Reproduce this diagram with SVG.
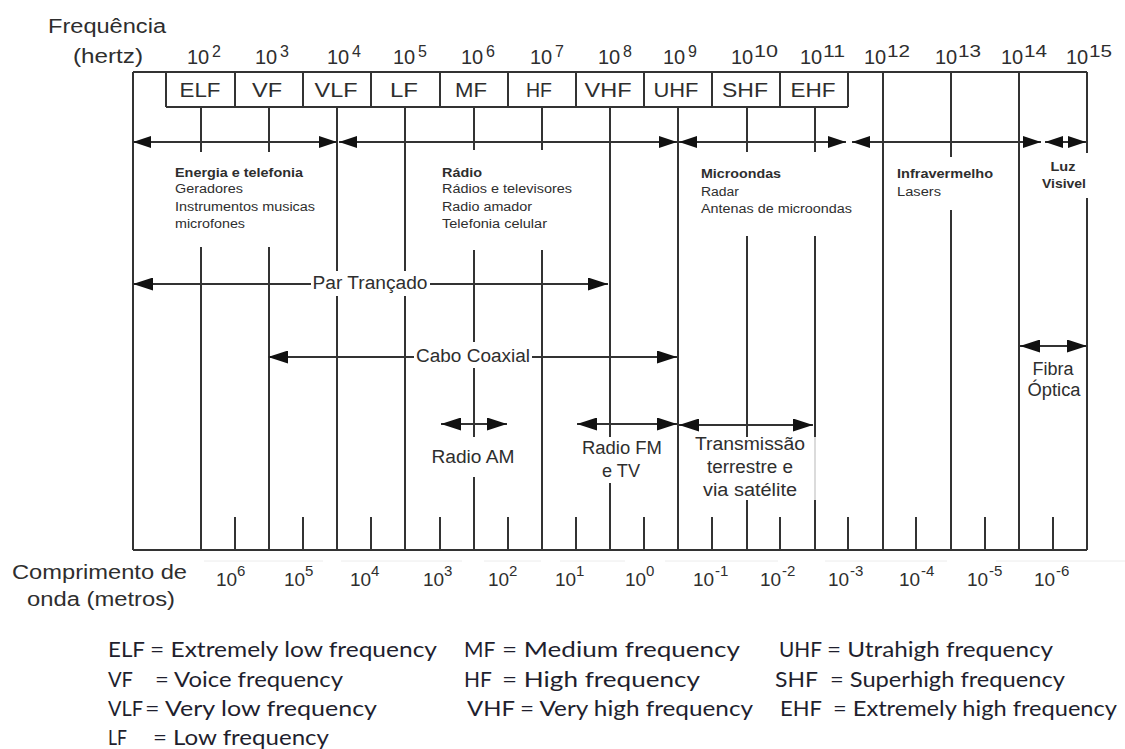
<svg xmlns="http://www.w3.org/2000/svg" width="1125" height="749" viewBox="0 0 1125 749">
<style>
.ln{stroke:#333;stroke-width:2;fill:none}
.fa{stroke:#cfcfcf;stroke-width:1.5;fill:none}
.gh{stroke:#ececec;stroke-width:1;fill:none}
.ar{stroke:#333;stroke-width:2;fill:none}
.t{font-family:"Liberation Sans",Arial,sans-serif;fill:#2e2e2e}
.big{font-size:20px}
.mid{font-size:18px}
.wv{font-size:19px}
.sm{font-size:12px}
.sup{font-size:16px}
.sup2{font-size:15px}
.b{font-weight:bold}
.c{text-anchor:middle}
.lg{font-family:Lato,"Liberation Sans",sans-serif;font-size:21px;fill:#1f1f2e}
.lg2{font-size:22px}
</style>
<defs>
<marker id="ah" viewBox="0 0 18 12" refX="18" refY="6" markerWidth="18" markerHeight="12" markerUnits="userSpaceOnUse" orient="auto-start-reverse"><path d="M0,0 L18,6 L0,12 z" fill="#111"/></marker>
<marker id="ah2" viewBox="0 0 20 13" refX="20" refY="6.5" markerWidth="20" markerHeight="13" markerUnits="userSpaceOnUse" orient="auto-start-reverse"><path d="M0,0 L20,6.5 L0,13 z" fill="#111"/></marker>
</defs>
<rect width="1125" height="749" fill="#fff"/>

<g id="frame">
<path class="ln" d="M133,72 H1087 M133,72 V550 M133,550 H1087 M1087,72 V153 M1087,198 V550"/>
<path class="ln" d="M166,107 H848 M166,72 V107 M235,72 V107 M303,72 V107 M371,72 V107 M440,72 V107 M508,72 V107 M576,72 V107 M644,72 V107 M712,72 V107 M780,72 V107 M848,72 V107"/>
<path class="ln" d="M201,107 V152 M201,247 V550 M269,107 V152 M269,247 V550 M337,107 V271 M337,296 V550 M405,107 V271 M405,296 V550 M474,107 V150 M474,250 V342 M474,368 V437 M474,477 V550 M542,107 V150 M542,250 V550 M610,107 V437 M610,483 V550 M678,107 V550 M747,107 V152 M747,236 V437 M747,500 V550 M815,107 V152 M815,236 V437 M815,500 V550 M883,72 V550 M951,72 V157 M951,210 V550 M1019,72 V550"/>
<path class="fa" d="M815,437 V500"/>
<path class="ln" d="M235,517 V550 M303,517 V550 M371,517 V550 M440,517 V550 M508,517 V550 M576,517 V550 M644,517 V550 M712,517 V550 M780,517 V550 M848,517 V550 M916,517 V550 M985,517 V550 M1053,517 V550"/>
<path class="gh" d="M204,561 H323 M341,561 H462 M484,561 H541 M560,561 H625 M665,561 H778 M825,561 H947 M996,561 H1125"/>
</g>

<g id="connectors">
<path class="ar" d="M133,142 H337" marker-start="url(#ah)" marker-end="url(#ah)"/>
<path class="ar" d="M339,142 H677" marker-start="url(#ah)" marker-end="url(#ah)"/>
<path class="ar" d="M679,142 H846" marker-start="url(#ah)" marker-end="url(#ah)"/>
<path class="ar" d="M852,142 H1041" marker-start="url(#ah)" marker-end="url(#ah)"/>
<path class="ar" d="M1045,142 H1086" marker-start="url(#ah)" marker-end="url(#ah)"/>
<path class="ar" d="M133,284 H311" marker-start="url(#ah2)"/>
<path class="ar" d="M430,284 H608" marker-end="url(#ah2)"/>
<path class="ar" d="M268,357 H414" marker-start="url(#ah2)"/>
<path class="ar" d="M532,357 H677" marker-end="url(#ah2)"/>
<path class="ar" d="M441,424 H507" marker-start="url(#ah2)" marker-end="url(#ah2)"/>
<path class="ar" d="M577,424 H677" marker-start="url(#ah2)" marker-end="url(#ah2)"/>
<path class="ar" d="M679,425 H813" marker-start="url(#ah2)" marker-end="url(#ah2)"/>
<path class="ar" d="M1020,346 H1087" marker-start="url(#ah2)" marker-end="url(#ah2)"/>
</g>

<g id="axis-titles">
<text class="t big" x="48" y="33" textLength="118" lengthAdjust="spacingAndGlyphs">Frequência</text>
<text class="t big" x="73" y="63" textLength="70" lengthAdjust="spacingAndGlyphs">(hertz)</text>
<text class="t big" x="12" y="579" textLength="175" lengthAdjust="spacingAndGlyphs">Comprimento de</text>
<text class="t big" x="27" y="606" textLength="148" lengthAdjust="spacingAndGlyphs">onda (metros)</text>
</g>

<g id="freq-scale" class="t">
<text class="big" x="187" y="64">10<tspan class="sup" x="212" y="57">2</tspan></text>
<text class="big" x="255" y="64">10<tspan class="sup" x="280" y="57">3</tspan></text>
<text class="big" x="327" y="64">10<tspan class="sup" x="352" y="57">4</tspan></text>
<text class="big" x="393" y="64">10<tspan class="sup" x="418" y="57">5</tspan></text>
<text class="big" x="461" y="64">10<tspan class="sup" x="486" y="57">6</tspan></text>
<text class="big" x="530" y="64">10<tspan class="sup" x="555" y="57">7</tspan></text>
<text class="big" x="598" y="64">10<tspan class="sup" x="623" y="57">8</tspan></text>
<text class="big" x="663" y="64">10<tspan class="sup" x="688" y="57">9</tspan></text>
<text class="big" x="731" y="64">10<tspan class="sup" x="754" y="57" textLength="24" lengthAdjust="spacingAndGlyphs">10</tspan></text>
<text class="big" x="800" y="64">10<tspan class="sup" x="823" y="57" textLength="22" lengthAdjust="spacingAndGlyphs">11</tspan></text>
<text class="big" x="864" y="64">10<tspan class="sup" x="887" y="57" textLength="23" lengthAdjust="spacingAndGlyphs">12</tspan></text>
<text class="big" x="935" y="64">10<tspan class="sup" x="958" y="57" textLength="23" lengthAdjust="spacingAndGlyphs">13</tspan></text>
<text class="big" x="1001" y="64">10<tspan class="sup" x="1024" y="57" textLength="23" lengthAdjust="spacingAndGlyphs">14</tspan></text>
<text class="big" x="1066" y="64">10<tspan class="sup" x="1089" y="57" textLength="23" lengthAdjust="spacingAndGlyphs">15</tspan></text>
</g>

<g id="bands" class="t big c">
<text x="200" y="97" textLength="41" lengthAdjust="spacingAndGlyphs">ELF</text>
<text x="267" y="97" textLength="30" lengthAdjust="spacingAndGlyphs">VF</text>
<text x="336" y="97" textLength="43" lengthAdjust="spacingAndGlyphs">VLF</text>
<text x="404" y="97" textLength="28" lengthAdjust="spacingAndGlyphs">LF</text>
<text x="471" y="97" textLength="32" lengthAdjust="spacingAndGlyphs">MF</text>
<text x="539" y="97" textLength="26" lengthAdjust="spacingAndGlyphs">HF</text>
<text x="608" y="97" textLength="47" lengthAdjust="spacingAndGlyphs">VHF</text>
<text x="676" y="97" textLength="45" lengthAdjust="spacingAndGlyphs">UHF</text>
<text x="745" y="97" textLength="46" lengthAdjust="spacingAndGlyphs">SHF</text>
<text x="813" y="97" textLength="45" lengthAdjust="spacingAndGlyphs">EHF</text>
</g>

<g id="energia" class="t sm">
<text class="b" x="175" y="177" textLength="128" lengthAdjust="spacingAndGlyphs">Energia e telefonia</text>
<text x="175" y="193" textLength="68" lengthAdjust="spacingAndGlyphs">Geradores</text>
<text x="175" y="211" textLength="140" lengthAdjust="spacingAndGlyphs">Instrumentos musicas</text>
<text x="175" y="228" textLength="70" lengthAdjust="spacingAndGlyphs">microfones</text>
</g>
<g id="radio" class="t sm">
<text class="b" x="442" y="177" textLength="40" lengthAdjust="spacingAndGlyphs">Rádio</text>
<text x="442" y="193" textLength="130" lengthAdjust="spacingAndGlyphs">Rádios e televisores</text>
<text x="442" y="211" textLength="90" lengthAdjust="spacingAndGlyphs">Radio amador</text>
<text x="442" y="228" textLength="105" lengthAdjust="spacingAndGlyphs">Telefonia celular</text>
</g>
<g id="microondas" class="t sm">
<text class="b" x="701" y="178" textLength="80" lengthAdjust="spacingAndGlyphs">Microondas</text>
<text x="701" y="196" textLength="38" lengthAdjust="spacingAndGlyphs">Radar</text>
<text x="701" y="213" textLength="151" lengthAdjust="spacingAndGlyphs">Antenas de microondas</text>
</g>
<g id="infravermelho" class="t sm">
<text class="b" x="897" y="178" textLength="96" lengthAdjust="spacingAndGlyphs">Infravermelho</text>
<text x="897" y="196" textLength="44" lengthAdjust="spacingAndGlyphs">Lasers</text>
</g>
<g id="luz" class="t sm b c">
<text x="1063" y="171" textLength="25" lengthAdjust="spacingAndGlyphs">Luz</text>
<text x="1064" y="188" textLength="44" lengthAdjust="spacingAndGlyphs">Visivel</text>
</g>

<g id="media" class="t mid c">
<text x="370" y="289" textLength="115" lengthAdjust="spacingAndGlyphs">Par Trançado</text>
<text x="473" y="362" textLength="114" lengthAdjust="spacingAndGlyphs">Cabo Coaxial</text>
<text x="473" y="463" textLength="83" lengthAdjust="spacingAndGlyphs">Radio AM</text>
<text x="622" y="454" textLength="80" lengthAdjust="spacingAndGlyphs">Radio FM</text>
<text x="621" y="477" textLength="38" lengthAdjust="spacingAndGlyphs">e TV</text>
<text x="750" y="450" textLength="110" lengthAdjust="spacingAndGlyphs">Transmissão</text>
<text x="750" y="473" textLength="86" lengthAdjust="spacingAndGlyphs">terrestre e</text>
<text x="750" y="496" textLength="94" lengthAdjust="spacingAndGlyphs">via satélite</text>
<text x="1053" y="375" textLength="41" lengthAdjust="spacingAndGlyphs">Fibra</text>
<text x="1054" y="396" textLength="53" lengthAdjust="spacingAndGlyphs">Óptica</text>
</g>

<g id="wave-scale" class="t">
<text class="wv" x="216" y="586">10<tspan class="sup2" x="237" y="576">6</tspan></text>
<text class="wv" x="284" y="586">10<tspan class="sup2" x="305" y="576">5</tspan></text>
<text class="wv" x="350" y="586">10<tspan class="sup2" x="371" y="576">4</tspan></text>
<text class="wv" x="423" y="586">10<tspan class="sup2" x="444" y="576">3</tspan></text>
<text class="wv" x="488" y="586">10<tspan class="sup2" x="509" y="576">2</tspan></text>
<text class="wv" x="555" y="586">10<tspan class="sup2" x="576" y="576">1</tspan></text>
<text class="wv" x="625" y="586">10<tspan class="sup2" x="646" y="576">0</tspan></text>
<text class="wv" x="693" y="586">10<tspan class="sup2" x="715" y="576">-1</tspan></text>
<text class="wv" x="760" y="586">10<tspan class="sup2" x="782" y="576">-2</tspan></text>
<text class="wv" x="828" y="586">10<tspan class="sup2" x="850" y="576">-3</tspan></text>
<text class="wv" x="899" y="586">10<tspan class="sup2" x="921" y="576">-4</tspan></text>
<text class="wv" x="967" y="586">10<tspan class="sup2" x="989" y="576">-5</tspan></text>
<text class="wv" x="1034" y="586">10<tspan class="sup2" x="1056" y="576">-6</tspan></text>
</g>

<g id="legend" class="lg">
<text x="108" y="657" textLength="37" lengthAdjust="spacingAndGlyphs">ELF</text>
<text x="150" y="657" textLength="287" lengthAdjust="spacingAndGlyphs">= Extremely low frequency</text>
<text x="108" y="687" textLength="25" lengthAdjust="spacingAndGlyphs">VF</text>
<text x="155" y="687" textLength="188" lengthAdjust="spacingAndGlyphs">= Voice frequency</text>
<text x="108" y="716" textLength="35" lengthAdjust="spacingAndGlyphs">VLF</text>
<text x="145" y="716" textLength="232" lengthAdjust="spacingAndGlyphs">= Very low frequency</text>
<text x="108" y="745" textLength="19" lengthAdjust="spacingAndGlyphs">LF</text>
<text x="153" y="745" textLength="176" lengthAdjust="spacingAndGlyphs">= Low frequency</text>
<text x="464" y="657">MF</text>
<text class="lg2" x="502" y="657" textLength="238" lengthAdjust="spacingAndGlyphs">= Medium frequency</text>
<text x="464" y="687">HF</text>
<text class="lg2" x="502" y="687" textLength="198" lengthAdjust="spacingAndGlyphs">= High frequency</text>
<text x="467" y="716" textLength="48" lengthAdjust="spacingAndGlyphs">VHF</text>
<text x="520" y="716" textLength="233" lengthAdjust="spacingAndGlyphs">= Very high frequency</text>
<text x="779" y="657" textLength="43" lengthAdjust="spacingAndGlyphs">UHF</text>
<text x="827" y="657" textLength="226" lengthAdjust="spacingAndGlyphs">= Utrahigh frequency</text>
<text x="775" y="687" textLength="43" lengthAdjust="spacingAndGlyphs">SHF</text>
<text x="830" y="687" textLength="235" lengthAdjust="spacingAndGlyphs">= Superhigh frequency</text>
<text x="780" y="716" textLength="42" lengthAdjust="spacingAndGlyphs">EHF</text>
<text x="833" y="716" textLength="284" lengthAdjust="spacingAndGlyphs">= Extremely high frequency</text>
</g>
</svg>
